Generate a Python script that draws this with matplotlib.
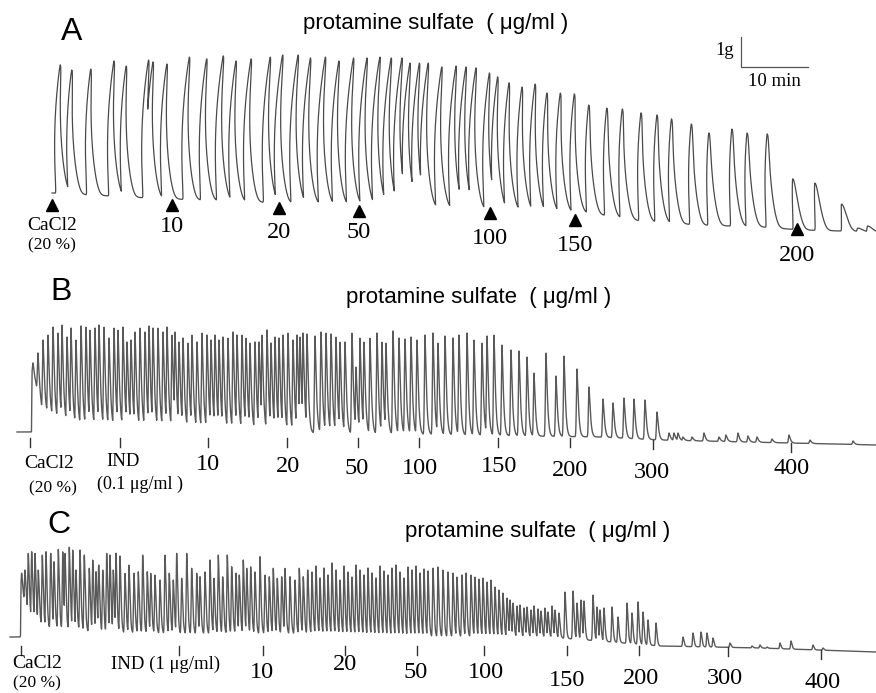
import numpy as np
import matplotlib
matplotlib.use("Agg")
import matplotlib.pyplot as plt

# ======================= DATA =======================
# Panel A: time (min) after CaCl2, tension (g)
a_peak_t = [0.9, 2.7, 5.5, 8.8, 10.7, 13.9, 14.6, 16.7, 19.9, 22.5,
            24.9, 26.9, 29.1, 31.9, 33.7, 36.0, 37.9, 40.1, 42.2, 44.3,
            46.3, 48.2, 49.9, 51.5, 52.8, 54.2, 55.5, 57.6, 59.7, 61.2,
            62.7, 64.8, 66.1, 67.9, 69.9, 71.8, 73.7, 75.7, 77.8, 80.1,
            82.8, 85.1, 87.9, 90.3, 92.5, 95.5, 98.2, 101.6, 103.9, 106.9,
            110.9, 114.2, 118.1, 120.3, 121.8]
a_peak_g = [5.57, 5.40, 5.43, 5.70, 5.53, 5.73, 5.67, 5.60, 5.83, 5.77,
            5.87, 5.70, 5.77, 5.83, 5.90, 5.90, 5.80, 5.83, 5.70, 5.80,
            5.80, 5.83, 5.80, 5.80, 5.63, 5.63, 5.63, 5.50, 5.53, 5.50,
            5.47, 5.30, 5.17, 4.97, 4.83, 4.93, 4.63, 4.63, 4.60, 4.23,
            4.13, 4.10, 3.97, 3.90, 3.77, 3.60, 3.30, 3.43, 3.30, 3.27,
            1.77, 1.63, 0.93, 0.13, 0.20]
a_base_t = [0, 14.6, 29.6, 41.5, 54.9, 66.9, 80.3, 87.8, 96.7, 105.7, 111.6, 123.0]
a_base_g = [1.30, 1.13, 1.00, 0.93, 0.83, 0.73, 0.63, 0.37, 0.23, 0.17, 0.07, 0.00]
a_stim_t = [0, 17.9, 33.9, 45.8, 65.4, 78.1, 111.2]
a_stim_labels = ['CaCl2', '10', '20', '50', '100', '150', '200']
scale_time_min = 10
scale_force_g = 1

# Panel B
b_peak_t = [1.5, 4, 6.5, 9, 11.5, 14, 16, 18.5, 20.5, 23,
            25.5, 28, 30, 32.5, 34.5, 37, 39.5, 42, 44, 46.5,
            48.5, 50.5, 52.5, 55, 57.5, 59.5, 61.5, 64, 66.5, 68.5,
            71, 72.5, 74.5, 76.5, 79, 81, 83.5, 86, 88.5, 90.5,
            92.5, 94.5, 96.5, 99, 101.5, 103.5, 106, 108, 110, 112.5,
            114.5, 116, 118.5, 120.5, 122.5, 124.5, 126.5, 129, 131.5, 133.5,
            135, 136.5, 138.5, 142.5, 145.5, 148, 150.5, 153, 155, 157.5,
            161, 163, 165, 167, 170, 173.5, 176, 178, 181.5, 184.5,
            187.5, 190.5, 193.5, 197.5, 201.5, 204, 207.5, 211.5, 214.5, 218.5,
            222, 226, 228.5, 232, 236, 240.5, 244.5, 248.5, 252, 258,
            263, 267, 273.5, 279.5, 286.5, 291.5, 297, 302, 307.5, 313.5,
            319.5, 322, 324, 326.5, 331, 337, 344.5, 348, 354, 359,
            363.5, 371, 379.5, 390, 411.5]
b_peak_g = [3.28, 3.68, 4.20, 4.40, 4.72, 4.48, 4.80, 4.32, 4.68, 4.20,
            4.76, 4.72, 4.60, 4.68, 4.80, 4.72, 4.28, 4.68, 4.60, 4.72,
            4.12, 4.20, 4.52, 4.68, 4.52, 4.76, 4.68, 4.68, 4.52, 4.72,
            4.40, 4.52, 4.12, 4.28, 4.08, 4.40, 4.12, 4.48, 4.40, 4.20,
            4.40, 4.20, 4.32, 4.28, 4.52, 4.40, 4.40, 4.28, 4.08, 4.12,
            4.12, 4.40, 4.60, 4.08, 4.32, 4.28, 4.40, 4.48, 4.20, 4.40,
            4.32, 4.48, 4.44, 4.36, 4.52, 4.48, 4.44, 4.32, 4.12, 4.12,
            4.48, 3.12, 4.28, 4.12, 4.28, 4.48, 4.12, 4.08, 4.56, 4.28,
            4.24, 4.32, 4.20, 4.40, 4.48, 4.08, 4.36, 4.28, 4.40, 4.48,
            4.20, 4.08, 4.36, 4.40, 4.00, 3.80, 3.76, 3.52, 2.88, 3.68,
            2.76, 3.56, 3.04, 2.32, 1.84, 1.68, 1.88, 1.84, 1.80, 1.32,
            0.48, 0.48, 0.48, 0.32, 0.32, 0.48, 0.32, 0.40, 0.48, 0.36,
            0.32, 0.24, 0.40, 0.20, 0.16]
b_base_t = [-6.5, 0.75, 1.0, 3, 6, 12.5, 25, 60, 135, 210, 285, 315, 423]
b_base_g = [0.52, 0.52, 2.80, 2.40, 1.40, 1.00, 0.72, 0.68, 0.48, 0.40, 0.32, 0.20, 0.00]
b_tick_t = [0, 45, 89, 128.5, 164, 194.5, 234, 270, 311.5, 380.5]

# Panel C
c_peak_t = [0.35, 2.0, 3.65, 5.35, 7.0, 8.65, 10.65, 12.5, 14.85, 16.5,
            18.65, 20.85, 22.0, 24.15, 25.85, 27.5, 29.5, 31.65, 34.15, 35.85,
            37.5, 38.85, 40.85, 42.85, 44.5, 46.15, 47.5, 49.5, 52.0, 54.0,
            56.5, 58.65, 60.85, 63.15, 64.85, 67.0, 69.5, 72.0, 74.15, 76.15,
            77.85, 80.35, 82.85, 85.35, 87.85, 89.5, 92.0, 94.5, 96.5, 98.65,
            100.85, 103.15, 105.35, 107.5, 109.15, 111.15, 112.85, 114.85, 117.0, 119.5,
            122.0, 124.15, 126.15, 128.15, 130.35, 132.0, 134.5, 137.0, 139.15, 141.15,
            143.35,
            145.5, 147.5, 149.5, 151.5, 153.5, 155.5, 157.5, 159.5, 161.5, 163.5,
            165.5, 167.5, 169.5, 171.5, 173.5, 175.5, 177.5, 179.5, 181.5, 183.5,
            185.5, 187.5, 189.5, 191.5, 193.5, 195.5, 197.5, 199.5, 201.5, 203.5,
            206, 208.5, 211, 213.5, 216, 218, 220.5, 222.5, 225, 227,
            229, 231, 233, 235, 237, 239, 241, 243,
            244.5, 246, 248, 249.5, 251.5, 253, 255, 256.5, 258.5, 260,
            262, 263.5, 265.5, 267, 269,
            272, 276, 278, 280, 281.5, 286, 288, 289.5, 291.5, 295.5,
            298.5, 303, 305.5, 308.5, 311, 313.5, 317.5,
            331, 336, 340, 343, 346, 354.5, 365.5, 369.5, 373, 379.5,
            385, 396, 401]
c_peak_g = [3.19, 3.32, 3.99, 4.05, 3.99, 3.32, 3.92, 4.05, 3.99, 3.65,
            4.15, 4.05, 3.99, 4.23, 4.12, 3.32, 4.12, 3.92, 3.39, 3.72,
            3.25, 3.52, 3.32, 3.99, 3.92, 3.32, 3.99, 3.88, 3.19, 3.52,
            3.19, 3.25, 3.92, 3.25, 3.19, 3.12, 2.92, 3.92, 3.19, 2.92,
            3.99, 2.99, 3.99, 3.39, 3.19, 3.05, 3.25, 3.72, 2.99, 3.92,
            3.05, 3.92, 3.45, 3.19, 3.12, 3.72, 3.39, 3.45, 3.25, 3.85,
            3.12, 3.05, 3.39, 2.99, 3.05, 3.39, 3.05, 2.92, 3.39, 3.05,
            3.32,
            3.24, 3.48, 3.00, 3.40, 3.12, 3.60, 3.32, 2.92, 3.48, 3.24,
            3.04, 3.52, 3.32, 3.12, 3.40, 3.20, 3.00, 3.48, 3.28, 3.12,
            3.40, 3.52, 3.24, 3.00, 3.44, 3.32, 3.48, 3.20, 3.36, 3.28,
            3.40, 3.44, 3.32, 3.24, 3.20, 3.04, 3.12, 3.20, 3.12, 3.04,
            2.96, 3.00, 2.84, 2.92, 2.64, 2.52, 2.40, 2.20,
            2.12, 2.00, 1.88, 1.92, 1.80, 1.84, 1.72, 1.88, 1.76, 1.68,
            1.80, 1.64, 1.88, 1.72, 1.60,
            2.44, 2.48, 2.00, 2.12, 2.08, 2.32, 1.84, 1.72, 1.80, 1.84,
            1.44, 2.00, 1.60, 2.04, 1.64, 1.32, 1.20,
            0.64, 0.80, 0.84, 0.80, 0.60, 0.40, 0.28, 0.32, 0.24, 0.40,
            0.48, 0.32, 0.20]
c_base_t = [-5.5, -0.25, 0, 1.5, 4.5, 12, 39.5, 89.5, 139.5, 189.5, 239.5, 269.5, 289.5, 319.5, 369.5, 427.5]
c_base_g = [0.64, 0.64, 2.52, 2.12, 1.40, 1.00, 0.80, 0.76, 0.76, 0.64, 0.64, 0.60, 0.48, 0.28, 0.20, 0.04]
c_tick_t = [0, 79, 121, 162, 198, 231.5, 273, 309, 353.5, 400]

assert len(a_peak_t) == len(a_peak_g)
assert len(b_peak_t) == len(b_peak_g), (len(b_peak_t), len(b_peak_g))
assert len(c_peak_t) == len(c_peak_g), (len(c_peak_t), len(c_peak_g))

# ======================= LAYOUT =======================
W, H = 876, 693
SERIF = ['Liberation Serif', 'DejaVu Serif']
SANS = ['Liberation Sans', 'DejaVu Sans']
LINE = '#4a4a4a'

fig = plt.figure(figsize=(W / 100, H / 100), dpi=100)
fig.patch.set_facecolor('white')

# pixel mapping of each panel: x0 (px of t=0), px per min, y0 (px of 0 g), px per g
MAP = {'A': (52, 6.7, 232, 30), 'B': (30, 2.0, 445, 25), 'C': (21, 2.0, 653, 25)}


def make_ax(key):
    x0, sx, y0, sy = MAP[key]
    ax = fig.add_axes([0, 0, 1, 1])
    ax.set_xlim((0 - x0) / sx, (W - x0) / sx)
    ax.set_ylim((y0 - H) / sy, y0 / sy)
    ax.axis('off')
    ax.patch.set_alpha(0)
    return ax


def ftext(x, y, s, **kw):
    kw.setdefault('ha', 'center')
    kw.setdefault('va', 'center')
    fig.text(x / W, 1 - y / H, s, **kw)


def build(t, pk_t, pk_g, bt, bg, rise, fall, p):
    base = np.interp(t, bt, bg)
    env = np.zeros_like(t)
    for tp, g in zip(pk_t, pk_g):
        amp = g - np.interp(tp, bt, bg)
        dt = t - tp
        sh = np.where(dt < 0, np.exp(-(dt / rise) ** 2),
                      np.exp(-(np.clip(dt, 0, None) / fall) ** p))
        env = np.maximum(env, amp * sh)
    return base, base + env


# ---------------- Panel A ----------------
axA = make_ax('A')
tA = np.arange(0, 123.0, 0.005)
baseA, yA = build(tA, a_peak_t, a_peak_g, a_base_t, a_base_g, 0.16, 0.9, 2.0)
h = yA - baseA
xA = tA + 0.11 * ((h - 1.8) ** 2 - 1.8 ** 2)     # curvilinear pen arc
axA.plot(xA, yA, color=LINE, lw=0.9)
a_mark_ypx = [205, 205, 208, 211, 213, 220, 229]
a_lab_ypx = [225, 226, 232, 232, 238, 245, 255]
for t, lab, my, ly in zip(a_stim_t, a_stim_labels, a_mark_ypx, a_lab_ypx):
    axA.plot([t], [(232 - my) / 30], marker='^', color='black', ms=8, ls='none')
    fs = 14 if lab == 'CaCl2' else 17.5
    axA.text(t, (232 - ly) / 30, lab, ha='center', va='center', fontsize=fs, family=SERIF)
axA.text(a_stim_t[0], (232 - 245) / 30, '(20 %)', ha='center', va='center', fontsize=12.5, family=SERIF)
# scale bar
sb_t, sb_g = 102.8, 5.5
axA.plot([sb_t, sb_t, sb_t + scale_time_min], [sb_g + scale_force_g, sb_g, sb_g], color='#555', lw=0.9)
axA.text(sb_t - 1.0, sb_g + 0.55, '1g', ha='right', va='center', fontsize=13.5, family=SERIF)
axA.text(sb_t + scale_time_min / 2, sb_g - 0.5, '10 min', ha='center', va='center', fontsize=13.5, family=SERIF)

# ---------------- Panel B ----------------
axB = make_ax('B')
tB = np.arange(-6.5, 423.0, 0.04)
baseB, yB = build(tB, b_peak_t, b_peak_g, b_base_t, b_base_g, 0.4, 0.9, 1.3)
axB.plot(tB, yB, color='#5a5a5a', lw=1.0)
for t in b_tick_t:
    top = min(np.interp(t, b_base_t, b_base_g), 0.28)
    axB.plot([t, t], [top, top - 0.36], color='#333', lw=1.0)

# ---------------- Panel C ----------------
axC = make_ax('C')
tC = np.arange(-5.5, 427.5, 0.04)
baseC, yC = build(tC, c_peak_t, c_peak_g, c_base_t, c_base_g, 0.35, 0.7, 1.5)
axC.plot(tC, yC, color='#5a5a5a', lw=1.0)
for t in c_tick_t:
    top = min(np.interp(t, c_base_t, c_base_g), 0.28)
    axC.plot([t, t], [top, top - 0.36], color='#333', lw=1.0)

# ---------------- Texts ----------------
for letter, (x, y) in zip('ABC', [(72, 32), (61, 292), (59, 525)]):
    ftext(x, y, letter, fontsize=23, family=SANS)
for (x, y) in [(436, 24), (479, 298), (538, 531)]:
    ftext(x, y, 'protamine sulfate  ( μg/ml )', fontsize=16, family=SANS)

b_labels = ['10', '20', '50', '100', '150', '200', '300', '400']
b_lab_px = [(208, 464), (288, 466), (357, 468), (420, 469), (499, 467), (570, 470), (652, 473), (792, 468)]
for s, (x, y) in zip(b_labels, b_lab_px):
    ftext(x, y, s, fontsize=17.5, family=SERIF)
ftext(49, 464, 'CaCl2', fontsize=14, family=SERIF)
ftext(53, 488, '(20 %)', fontsize=12.5, family=SERIF)
ftext(123, 462, 'IND', fontsize=13.5, family=SERIF)
ftext(140, 484, '(0.1 μg/ml )', fontsize=13, family=SERIF)

c_labels = ['10', '20', '50', '100', '150', '200', '300', '400']
c_lab_px = [(262, 673), (345, 664), (416, 673), (486, 673), (567, 680), (641, 678), (725, 678), (823, 682)]
for s, (x, y) in zip(c_labels, c_lab_px):
    ftext(x, y, s, fontsize=17.5, family=SERIF)
ftext(37, 664, 'CaCl2', fontsize=14, family=SERIF)
ftext(37, 683, '(20 %)', fontsize=12.5, family=SERIF)
ftext(166, 664, 'IND (1 μg/ml)', fontsize=13.5, family=SERIF)

fig.savefig('out.png', dpi=100, facecolor='white')
